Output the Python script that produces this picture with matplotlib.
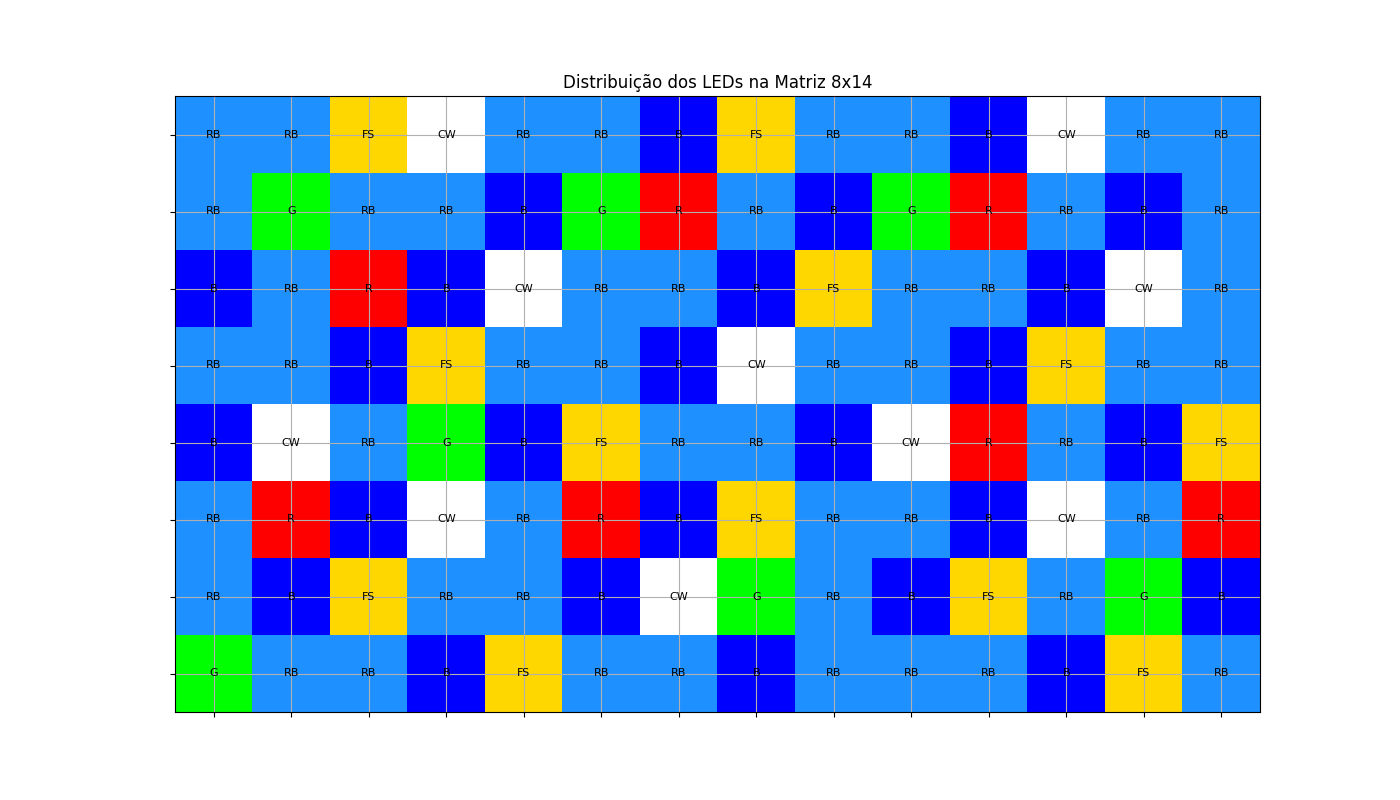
import numpy as np
import matplotlib
matplotlib.use("Agg")
import matplotlib.pyplot as plt
from matplotlib.colors import to_rgb

rows = [
    ["RB","RB","FS","CW","RB","RB","B","FS","RB","RB","B","CW","RB","RB"],
    ["RB","G","RB","RB","B","G","R","RB","B","G","R","RB","B","RB"],
    ["B","RB","R","B","CW","RB","RB","B","FS","RB","RB","B","CW","RB"],
    ["RB","RB","B","FS","RB","RB","B","CW","RB","RB","B","FS","RB","RB"],
    ["B","CW","RB","G","B","FS","RB","RB","B","CW","R","RB","B","FS"],
    ["RB","R","B","CW","RB","R","B","FS","RB","RB","B","CW","RB","R"],
    ["RB","B","FS","RB","RB","B","CW","G","RB","B","FS","RB","G","B"],
    ["G","RB","RB","B","FS","RB","RB","B","RB","RB","RB","B","FS","RB"],
]
led_colors = {"RB": "dodgerblue", "B": "blue", "G": "lime", "R": "red", "FS": "gold", "CW": "white"}

n_rows = len(rows)
n_cols = len(rows[0])
img = np.array([[to_rgb(led_colors[c]) for c in r] for r in rows])

fig, ax = plt.subplots(figsize=(14, 8), dpi=100)
ax.imshow(img, aspect="auto")
for i, r in enumerate(rows):
    for j, c in enumerate(r):
        ax.text(j, i, c, ha="center", va="center", fontsize=8, color="black")
ax.set_xticks(np.arange(n_cols))
ax.set_yticks(np.arange(n_rows))
ax.set_xticklabels([])
ax.set_yticklabels([])
ax.grid(True)
ax.set_title("Distribuição dos LEDs na Matriz 8x14")
fig.savefig("out.png", dpi=100)
